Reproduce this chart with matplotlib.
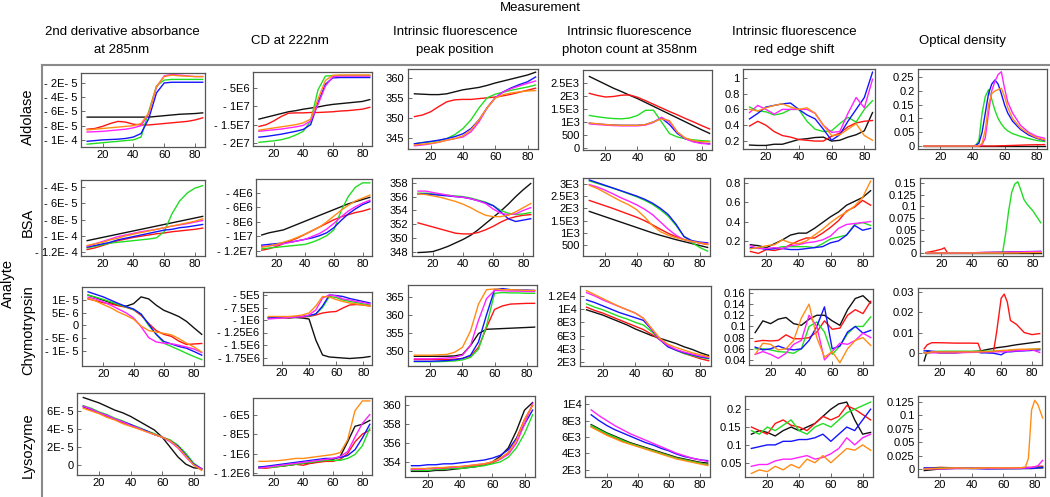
import matplotlib.pyplot as plt
from matplotlib.lines import Line2D

plt.rcParams['font.family'] = ['Liberation Sans', 'DejaVu Sans']

# temperature grid shared by most panels
temps = [10, 15, 20, 25, 30, 35, 40, 45, 50, 55, 60, 65, 70, 75, 80, 85]

col_titles = ['2nd derivative absorbance\nat 285nm', 'CD at 222nm',
              'Intrinsic fluorescence\npeak position',
              'Intrinsic fluorescence\nphoton count at 358nm',
              'Intrinsic fluorescence\nred edge shift', 'Optical density']
row_names = ['Aldolase', 'BSA', 'Chymotrypsin', 'Lysozyme']

colors = {'k': '#111111', 'r': '#ff1414', 'g': '#22dd22', 'b': '#1414ff',
          'm': '#ff22ff', 'o': '#ff8c14'}

# ---------------- Aldolase ----------------
ald_abs = {
    'k': [-6.8, -6.8, -6.8, -6.8, -6.8, -6.8, -6.8, -6.8, -6.8, -6.7, -6.6, -6.5, -6.4, -6.35, -6.3, -6.2],
    'r': [-8.5, -8.4, -8.1, -7.7, -7.4, -7.5, -7.8, -7.9, -7.9, -7.8, -7.7, -7.6, -7.5, -7.4, -7.2, -6.9],
    'g': [-10.6, -10.5, -10.4, -10.3, -10.2, -10.1, -10.0, -9.6, -6.0, -2.4, -1.6, -1.5, -1.5, -1.5, -1.5, -1.5],
    'b': [-10.2, -10.1, -10.0, -9.95, -9.9, -9.8, -9.6, -9.1, -7.0, -3.4, -2.0, -1.9, -1.9, -1.9, -1.9, -1.9],
    'm': [-8.9, -8.85, -8.8, -8.7, -8.6, -8.5, -8.3, -8.0, -6.3, -2.6, -1.0, -0.8, -0.9, -1.0, -1.1, -1.1],
    'o': [-8.6, -8.5, -8.4, -8.3, -8.2, -8.1, -8.0, -7.7, -6.2, -2.5, -1.1, -0.9, -1.0, -1.05, -1.1, -1.1],
}
ald_cd = {
    'k': [-13.5, -13.0, -12.5, -12.0, -11.5, -11.2, -10.8, -10.5, -10.2, -9.8, -9.5, -9.3, -9.1, -8.9, -8.7, -8.2],
    'r': [-15.5, -15.0, -14.0, -12.8, -11.9, -11.8, -11.8, -11.7, -11.7, -11.6, -11.5, -11.3, -11.2, -11.0, -10.8, -10.3],
    'g': [-19.8, -19.6, -19.4, -19.1, -18.6, -17.8, -16.8, -14.0, -5.5, -1.8, -1.7, -1.7, -1.7, -1.7, -1.7, -1.7],
    'b': [-18.4, -18.2, -17.9, -17.6, -17.2, -16.8, -16.3, -15.0, -9.0, -4.0, -2.3, -2.2, -2.2, -2.2, -2.2, -2.2],
    'm': [-16.8, -16.6, -16.4, -16.2, -15.9, -15.6, -15.2, -14.0, -9.5, -4.5, -2.0, -1.8, -1.8, -1.8, -1.8, -1.8],
    'o': [-16.5, -16.2, -15.9, -15.6, -15.3, -15.0, -14.5, -13.5, -8.0, -3.0, -1.6, -1.5, -1.5, -1.5, -1.5, -1.5],
}
ald_peak = {
    'k': [356.0, 355.9, 355.8, 355.8, 356.0, 356.5, 357.0, 357.3, 357.6, 358.1, 358.7, 359.2, 359.7, 360.2, 360.7, 361.4],
    'r': [350.3, 350.7, 351.5, 352.8, 354.0, 354.5, 354.6, 354.6, 354.8, 355.0, 355.2, 355.5, 355.9, 356.4, 356.9, 357.4],
    'g': [343.5, 343.8, 344.0, 344.3, 344.8, 345.8, 347.3, 349.5, 352.5, 355.0, 355.9, 356.4, 356.9, 357.3, 357.7, 358.2],
    'b': [343.5, 343.8, 344.1, 344.4, 344.8, 345.3, 346.0, 347.3, 349.5, 352.5, 355.0, 356.5, 357.5, 358.3, 359.0, 360.2],
    'm': [343.0, 343.2, 343.5, 343.9, 344.4, 344.8, 345.2, 346.5, 349.0, 352.5, 355.0, 356.5, 357.3, 358.0, 358.6, 359.2],
    'o': [343.2, 343.4, 343.6, 343.9, 344.4, 344.8, 345.5, 347.0, 349.5, 352.5, 354.9, 355.8, 356.2, 356.5, 356.7, 356.8],
}
ald_count = {
    'k': [2750, 2600, 2450, 2300, 2170, 2030, 1900, 1750, 1600, 1450, 1300, 1150, 1000, 850, 700, 560],
    'r': [2100, 2020, 1960, 1980, 2030, 2040, 1950, 1820, 1680, 1540, 1400, 1270, 1130, 1000, 860, 730],
    'g': [1250, 1200, 1160, 1130, 1120, 1150, 1250, 1450, 1450, 1000, 550, 420, 350, 310, 280, 260],
    'b': [950, 920, 900, 880, 870, 870, 870, 900, 1000, 1150, 900, 550, 350, 250, 190, 160],
    'm': [930, 900, 880, 860, 850, 850, 850, 880, 980, 1180, 1000, 600, 350, 230, 170, 150],
    'o': [960, 930, 900, 880, 870, 870, 870, 900, 1000, 1120, 1050, 600, 380, 280, 240, 230],
}
ald_edge = {
    'k': [0.15, 0.145, 0.145, 0.16, 0.16, 0.19, 0.22, 0.23, 0.245, 0.25, 0.2, 0.21, 0.25, 0.28, 0.33, 0.56],
    'r': [0.39, 0.45, 0.4, 0.32, 0.27, 0.25, 0.22, 0.21, 0.2, 0.2, 0.26, 0.3, 0.38, 0.43, 0.45, 0.46],
    'g': [0.63, 0.58, 0.57, 0.53, 0.55, 0.6, 0.6, 0.45, 0.35, 0.32, 0.33, 0.42, 0.5, 0.44, 0.6, 0.71],
    'b': [0.48, 0.55, 0.63, 0.65, 0.67, 0.68, 0.6, 0.53, 0.48, 0.35, 0.21, 0.28, 0.45, 0.6, 0.75, 1.07],
    'm': [0.56, 0.65, 0.6, 0.54, 0.6, 0.6, 0.6, 0.6, 0.55, 0.4, 0.31, 0.32, 0.55, 0.75, 0.62, 0.98],
    'o': [0.6, 0.58, 0.62, 0.65, 0.67, 0.63, 0.6, 0.62, 0.55, 0.4, 0.27, 0.28, 0.35, 0.42, 0.27, 0.21],
}
ald_od_t = [10, 40, 42, 44, 46, 48, 50, 52, 54, 56, 58, 60, 62, 65, 70, 75, 80, 85]
ald_od = {
    'k': [0, 0, 0, 0, 0, 0, 0, 0, 0, 0, 0, 0, 0, 0, 0, 0, 0, 0],
    'g': [0, 0, 0.002, 0.02, 0.12, 0.18, 0.205, 0.17, 0.13, 0.1, 0.08, 0.065, 0.055, 0.045, 0.035, 0.027, 0.02, 0.016],
    'b': [0, 0, 0.002, 0.01, 0.05, 0.12, 0.19, 0.225, 0.24, 0.225, 0.19, 0.15, 0.12, 0.09, 0.06, 0.04, 0.028, 0.02],
    'm': [0, 0, 0, 0, 0.005, 0.03, 0.12, 0.2, 0.235, 0.26, 0.27, 0.21, 0.16, 0.12, 0.075, 0.05, 0.035, 0.028],
    'o': [0, 0, 0, 0, 0.01, 0.06, 0.15, 0.19, 0.2, 0.205, 0.21, 0.18, 0.14, 0.1, 0.065, 0.045, 0.03, 0.022],
    'r': [0, 0, 0, 0, 0, 0, 0, 0, 0, 0.0005, 0.001, 0.001, 0.0015, 0.002, 0.003, 0.004, 0.0045, 0.005],
}

# ---------------- BSA ----------------
bsa_abs = {
    'k': [-10.6, -10.4, -10.2, -10.0, -9.8, -9.6, -9.4, -9.2, -9.0, -8.8, -8.6, -8.4, -8.2, -8.0, -7.8, -7.6],
    'r': [-11.7, -11.5, -11.2, -10.9, -10.6, -10.4, -10.2, -10.05, -9.9, -9.75, -9.65, -9.5, -9.4, -9.3, -9.2, -9.05],
    'g': [-11.5, -11.3, -11.1, -10.9, -10.8, -10.7, -10.6, -10.5, -10.4, -10.25, -9.5, -7.3, -5.7, -4.7, -4.1, -3.8],
    'b': [-11.4, -11.2, -11.0, -10.8, -10.5, -10.3, -10.1, -9.9, -9.7, -9.5, -9.3, -9.2, -9.0, -8.9, -8.75, -8.6],
    'm': [-11.3, -11.0, -10.7, -10.4, -10.1, -9.9, -9.7, -9.5, -9.35, -9.2, -9.0, -8.8, -8.65, -8.5, -8.3, -8.1],
    'o': [-11.2, -11.0, -10.8, -10.5, -10.3, -10.0, -9.8, -9.6, -9.4, -9.2, -9.0, -8.8, -8.6, -8.4, -8.2, -7.9],
}
bsa_cd = {
    'k': [-9.8, -9.5, -9.3, -9.1, -8.7, -8.3, -7.9, -7.5, -7.1, -6.7, -6.3, -5.9, -5.5, -5.2, -4.9, -4.6],
    'r': [-11.9, -11.7, -11.4, -11.0, -10.6, -10.2, -9.7, -9.2, -8.7, -8.2, -7.7, -7.3, -7.0, -6.7, -6.5, -6.2],
    'g': [-11.7, -11.6, -11.5, -11.4, -11.3, -11.2, -11.1, -10.8, -10.4, -9.9, -9.1, -6.5, -4.5, -3.2, -2.6, -2.6],
    'b': [-11.2, -11.1, -11.0, -10.9, -10.8, -10.6, -10.4, -10.2, -9.9, -9.5, -8.8, -7.8, -6.9, -6.2, -5.6, -5.2],
    'm': [-11.4, -11.3, -11.2, -11.0, -10.8, -10.6, -10.4, -10.0, -9.6, -9.0, -8.2, -7.3, -6.5, -5.9, -5.4, -5.0],
    'o': [-11.5, -11.3, -11.1, -10.8, -10.5, -10.1, -9.7, -9.2, -8.7, -8.0, -7.2, -6.4, -5.7, -5.1, -4.7, -4.3],
}
bsa_peak = {
    'k': [347.9, 347.95, 348.05, 348.4, 348.8, 349.3, 349.8, 350.4, 351.2, 352.1, 353.0, 353.9, 354.9, 356.0, 357.0, 357.9],
    'r': [352.2, 351.9, 351.6, 351.3, 351.0, 350.7, 350.6, 350.6, 350.8, 351.2, 351.7, 352.3, 352.8, 353.1, 353.3, 353.4],
    'g': [356.5, 356.5, 356.4, 356.3, 356.2, 356.1, 356.0, 355.8, 355.5, 355.2, 354.7, 354.0, 353.6, 353.4, 353.5, 353.7],
    'b': [356.4, 356.4, 356.3, 356.2, 356.1, 356.0, 355.9, 355.7, 355.4, 355.1, 354.7, 353.8, 352.8, 352.4, 352.6, 352.8],
    'm': [356.8, 356.8, 356.6, 356.4, 356.2, 356.0, 355.9, 355.7, 355.4, 355.0, 354.2, 353.6, 353.4, 353.5, 354.0, 354.4],
    'o': [356.4, 356.3, 356.1, 355.9, 355.6, 355.3, 354.9, 354.4, 353.8, 353.3, 353.1, 353.1, 353.3, 353.8, 354.4, 355.0],
}
bsa_count = {
    'k': [1880, 1770, 1660, 1550, 1440, 1330, 1220, 1110, 1000, 900, 810, 720, 640, 560, 480, 400],
    'r': [2330, 2220, 2110, 2000, 1880, 1760, 1640, 1500, 1330, 1150, 980, 840, 730, 650, 580, 520],
    'g': [3130, 3030, 2930, 2830, 2720, 2600, 2480, 2340, 2170, 1950, 1680, 1300, 850, 600, 400, 250],
    'b': [3170, 3060, 2950, 2840, 2730, 2620, 2510, 2380, 2220, 2010, 1750, 1350, 850, 680, 620, 590],
    'm': [2980, 2880, 2750, 2600, 2440, 2300, 2150, 1970, 1750, 1450, 1150, 900, 720, 640, 590, 560],
    'o': [2950, 2820, 2650, 2470, 2300, 2150, 1950, 1650, 1300, 1050, 900, 800, 720, 650, 590, 530],
}
bsa_edge = {
    'k': [0.16, 0.15, 0.13, 0.17, 0.21, 0.26, 0.28, 0.28, 0.33, 0.39, 0.45, 0.5, 0.57, 0.61, 0.65, 0.72],
    'r': [0.09, 0.07, 0.11, 0.10, 0.12, 0.16, 0.2, 0.23, 0.23, 0.28, 0.34, 0.41, 0.51, 0.55, 0.62, 0.57],
    'g': [0.12, 0.13, 0.12, 0.12, 0.14, 0.14, 0.14, 0.14, 0.13, 0.17, 0.22, 0.24, 0.26, 0.37, 0.39, 0.36],
    'b': [0.13, 0.13, 0.11, 0.12, 0.12, 0.11, 0.11, 0.12, 0.13, 0.14, 0.18, 0.2, 0.26, 0.36, 0.31, 0.33],
    'm': [0.15, 0.12, 0.12, 0.13, 0.12, 0.15, 0.16, 0.18, 0.19, 0.21, 0.25, 0.33, 0.37, 0.38, 0.39, 0.4],
    'o': [0.12, 0.13, 0.15, 0.16, 0.21, 0.18, 0.17, 0.2, 0.26, 0.32, 0.39, 0.45, 0.5, 0.56, 0.65, 0.82],
}
bsa_od_t = [10, 15, 20, 22, 24, 30, 40, 50, 60, 62, 64, 66, 68, 70, 72, 74, 76, 80, 85]
bsa_od = {
    'k': [0, 0, 0, 0, 0, 0, 0, 0, 0, 0, 0, 0, 0, 0, 0, 0, 0, 0, 0],
    'g': [0, 0, 0, 0, 0, 0, 0, 0, 0, 0.04, 0.09, 0.13, 0.148, 0.153, 0.135, 0.115, 0.105, 0.09, 0.065],
    'b': [0, 0, 0, 0, 0, 0, 0.0005, 0.001, 0.0015, 0.0015, 0.002, 0.002, 0.002, 0.002, 0.0025, 0.0025, 0.003, 0.003, 0.0035],
    'm': [0, 0, 0, 0, 0, 0, 0.0005, 0.001, 0.001, 0.0015, 0.0015, 0.002, 0.002, 0.002, 0.002, 0.0025, 0.0025, 0.003, 0.003],
    'o': [0, 0, 0, 0, 0, 0, 0, 0, 0, 0, 0, 0, 0, 0, 0.0005, 0.0005, 0.0005, 0.001, 0.001],
    'r': [0.001, 0.004, 0.008, 0.011, 0.0, 0.0, 0.0005, 0.001, 0.0015, 0.0015, 0.0015, 0.0015, 0.0015, 0.0015, 0.002, 0.002, 0.002, 0.002, 0.002],
}

# ---------------- Chymotrypsin ----------------
chy_abs = {
    'k': [12.0, 11.0, 10.0, 9.0, 8.0, 7.6, 8.6, 11.3, 10.5, 8.0, 6.0, 4.8, 3.5, 1.6, -1.0, -3.5],
    'r': [10.5, 9.8, 9.0, 8.5, 7.8, 7.2, 6.2, 4.0, 0.8, -2.0, -3.5, -4.3, -6.2, -7.5, -7.3, -7.1],
    'g': [12.0, 11.2, 10.3, 9.3, 8.3, 7.3, 6.3, 4.5, 0.0, -3.5, -7.0, -8.3, -9.6, -11.0, -12.3, -13.5],
    'b': [13.3, 12.3, 11.3, 10.0, 8.7, 7.5, 6.5, 4.5, 0.5, -3.5, -6.3, -7.3, -8.3, -9.0, -10.3, -11.7],
    'm': [11.2, 10.5, 9.3, 8.0, 6.5, 5.0, 3.0, -0.5, -4.8, -6.5, -7.0, -7.2, -7.8, -8.5, -9.3, -10.7],
    'o': [10.7, 9.7, 8.3, 7.0, 5.3, 4.0, 2.5, -0.2, -2.0, -2.6, -3.1, -3.7, -5.2, -7.0, -8.5, -10.5],
}
chy_cd = {
    'k': [-9.5, -9.6, -9.5, -9.6, -9.5, -9.6, -9.8, -14.0, -17.0, -17.4, -17.5, -17.6, -17.7, -17.6, -17.5, -17.3],
    'r': [-9.6, -9.5, -9.5, -9.5, -9.4, -9.4, -9.3, -9.0, -8.6, -8.4, -8.3, -7.6, -7.0, -6.9, -7.0, -7.2],
    'g': [-9.5, -9.5, -9.4, -9.4, -9.3, -9.3, -9.2, -8.8, -7.5, -5.3, -5.5, -6.0, -6.3, -6.5, -6.8, -7.0],
    'b': [-9.6, -9.5, -9.5, -9.4, -9.4, -9.3, -9.1, -8.8, -7.2, -5.0, -5.1, -5.3, -5.7, -6.0, -6.3, -6.6],
    'm': [-9.8, -9.7, -9.6, -9.5, -9.4, -9.3, -9.0, -8.0, -5.6, -5.0, -5.2, -5.8, -6.0, -6.3, -6.5, -6.8],
    'o': [-9.3, -9.3, -9.3, -9.3, -9.2, -9.0, -8.6, -7.2, -5.3, -5.4, -5.9, -6.3, -6.6, -6.8, -7.0, -7.2],
}
chy_peak = {
    'k': [348.5, 348.5, 348.5, 348.5, 348.5, 348.6, 349.0, 351.5, 354.8, 356.0, 356.1, 356.2, 356.3, 356.4, 356.5, 356.6],
    'r': [347.6, 347.6, 347.6, 347.6, 347.6, 347.7, 347.9, 348.5, 351.0, 356.5, 361.5, 362.5, 363.0, 363.1, 363.2, 363.2],
    'g': [347.0, 347.0, 347.0, 347.0, 347.1, 347.2, 347.5, 348.2, 350.5, 357.0, 366.0, 366.2, 366.1, 366.1, 366.0, 366.0],
    'b': [347.1, 347.1, 347.1, 347.2, 347.3, 347.5, 347.9, 348.8, 352.5, 360.0, 367.0, 367.3, 367.0, 366.9, 366.9, 366.8],
    'm': [347.8, 347.8, 347.8, 347.9, 348.0, 348.2, 348.8, 351.5, 358.5, 364.5, 366.8, 366.7, 366.6, 366.6, 366.5, 366.5],
    'o': [348.8, 348.8, 348.8, 348.9, 349.0, 349.6, 351.0, 355.5, 363.0, 367.0, 367.2, 367.0, 367.0, 366.9, 366.8, 366.8],
}
chy_count = {
    'k': [9.9, 9.5, 9.1, 8.6, 8.1, 7.6, 7.0, 6.5, 6.0, 5.6, 5.2, 4.8, 4.3, 3.9, 3.4, 3.0],
    'r': [10.3, 9.8, 9.4, 8.9, 8.4, 7.9, 7.4, 6.9, 6.2, 5.4, 4.5, 3.8, 3.3, 2.9, 2.5, 2.2],
    'g': [10.8, 10.3, 9.9, 9.4, 8.9, 8.5, 8.0, 7.6, 6.6, 5.4, 4.4, 3.8, 3.3, 3.0, 2.7, 2.5],
    'b': [11.4, 11.0, 10.5, 10.0, 9.5, 9.1, 8.7, 8.3, 6.9, 5.4, 4.3, 3.8, 3.4, 3.1, 2.8, 2.6],
    'm': [12.5, 12.0, 11.4, 10.9, 10.4, 9.9, 9.4, 8.6, 7.0, 5.4, 4.5, 3.9, 3.5, 3.2, 2.9, 2.7],
    'o': [12.8, 12.2, 11.6, 11.0, 10.4, 9.9, 9.4, 8.6, 7.1, 5.6, 4.7, 4.2, 3.8, 3.4, 3.1, 2.8],
}
chy_edge = {
    'k': [0.089, 0.11, 0.105, 0.113, 0.116, 0.105, 0.102, 0.113, 0.12, 0.12, 0.11, 0.102, 0.13, 0.15, 0.155, 0.142],
    'r': [0.073, 0.075, 0.074, 0.075, 0.085, 0.078, 0.078, 0.08, 0.09, 0.11, 0.095, 0.097, 0.12, 0.13, 0.123, 0.145],
    'g': [0.06, 0.06, 0.058, 0.055, 0.054, 0.052, 0.06, 0.1, 0.108, 0.09, 0.05, 0.065, 0.087, 0.1, 0.1, 0.117],
    'b': [0.063, 0.058, 0.06, 0.065, 0.06, 0.058, 0.06, 0.075, 0.1, 0.135, 0.06, 0.065, 0.09, 0.1, 0.088, 0.093],
    'm': [0.05, 0.055, 0.05, 0.043, 0.052, 0.068, 0.075, 0.12, 0.1, 0.04, 0.055, 0.07, 0.068, 0.075, 0.088, 0.08],
    'o': [0.05, 0.07, 0.068, 0.058, 0.06, 0.075, 0.115, 0.14, 0.08, 0.045, 0.055, 0.035, 0.06, 0.075, 0.08, 0.066],
}
chy_od_t = [10, 12, 15, 20, 30, 40, 45, 47, 50, 55, 57, 60, 62, 64, 66, 70, 75, 80, 85]
chy_od = {
    'k': [-0.004, 0.001, 0.0005, 0.0, 0.0, 0.0005, 0.0008, 0.001, 0.0015, 0.0022, 0.0025, 0.0028, 0.003, 0.0032, 0.0035, 0.004, 0.0045, 0.005, 0.0055],
    'g': [0.0, -0.0005, 0.0005, 0.0008, 0.0008, 0.0008, 0.0008, 0.0008, 0.0008, 0.0008, 0.0008, 0.0008, 0.001, 0.001, 0.0012, 0.0015, 0.0015, 0.0018, 0.002],
    'b': [0.001, 0.001, 0.0008, 0.0005, 0.0005, 0.0005, 0.0003, 0.0, 0.0, -0.0002, -0.0005, -0.001, 0.0, 0.0005, 0.0005, 0.0008, 0.001, 0.0012, 0.0015],
    'm': [0.0, 0.0, 0.0, 0.0, 0.0, 0.0002, 0.0003, 0.0005, 0.0005, 0.0005, 0.0005, 0.0005, 0.0005, 0.0007, 0.0008, 0.001, 0.0012, 0.0015, 0.0002],
    'o': [0.0, 0.0, 0.0005, 0.0005, 0.0005, 0.0005, 0.0005, 0.0005, 0.0006, 0.0008, 0.001, 0.0012, 0.0012, 0.0013, 0.0015, 0.0017, 0.0018, 0.0018, 0.002],
    'r': [0.002, 0.004, 0.005, 0.005, 0.0048, 0.0048, 0.0047, 0.0005, 0.0005, 0.0005, 0.01, 0.027, 0.029, 0.025, 0.016, 0.014, 0.01, 0.009, 0.0095],
}

# ---------------- Lysozyme ----------------
lys_abs = {
    'k': [7.5, 7.2, 6.9, 6.5, 6.1, 5.8, 5.4, 4.9, 4.4, 3.9, 3.1, 2.0, 0.9, 0.1, -0.3, -0.4],
    'r': [6.45, 6.1, 5.8, 5.4, 5.1, 4.7, 4.4, 4.1, 3.8, 3.4, 3.1, 2.7, 2.0, 1.0, 0.1, -0.5],
    'g': [6.6, 6.3, 5.9, 5.6, 5.2, 4.9, 4.5, 4.2, 3.8, 3.5, 3.1, 2.8, 2.2, 1.3, 0.2, -0.4],
    'b': [6.5, 6.2, 5.8, 5.5, 5.1, 4.8, 4.5, 4.1, 3.8, 3.4, 3.1, 2.7, 2.1, 1.1, 0.1, -0.4],
    'm': [6.55, 6.2, 5.8, 5.5, 5.1, 4.8, 4.4, 4.1, 3.7, 3.4, 3.1, 2.6, 1.9, 0.9, 0.0, -0.4],
    'o': [6.3, 6.0, 5.7, 5.3, 5.0, 4.6, 4.3, 4.0, 3.7, 3.4, 3.1, 2.7, 2.0, 1.0, 0.0, -0.6],
}
lys_cd = {
    'k': [-11.4, -11.4, -11.3, -11.3, -11.2, -11.1, -11.0, -11.0, -10.8, -10.7, -10.6, -10.3, -8.8, -7.2, -7.0, -6.6],
    'r': [-11.5, -11.5, -11.4, -11.3, -11.2, -11.1, -11.2, -11.0, -10.9, -10.8, -10.8, -10.6, -10.0, -8.8, -8.0, -7.6],
    'g': [-11.5, -11.4, -11.4, -11.3, -11.2, -11.1, -11.0, -10.9, -10.8, -10.7, -10.7, -10.7, -10.5, -10.1, -9.2, -7.4],
    'b': [-11.4, -11.3, -11.2, -11.1, -11.0, -10.9, -10.8, -10.7, -10.6, -10.5, -10.5, -10.4, -10.2, -9.6, -8.4, -7.0],
    'm': [-11.5, -11.4, -11.3, -11.2, -11.1, -11.0, -10.9, -10.8, -10.7, -10.6, -10.5, -10.3, -9.8, -8.3, -6.9, -6.0],
    'o': [-10.8, -10.8, -10.75, -10.7, -10.6, -10.5, -10.5, -10.4, -10.3, -10.2, -10.1, -9.9, -8.6, -5.6, -4.6, -4.6],
}
lys_peak = {
    'k': [353.0, 353.0, 353.0, 353.1, 353.1, 353.2, 353.3, 353.4, 353.5, 353.7, 354.0, 354.6, 355.5, 357.3, 359.5, 360.3],
    'r': [353.2, 353.2, 353.3, 353.3, 353.3, 353.4, 353.5, 353.5, 353.6, 353.7, 353.9, 354.3, 355.0, 356.5, 358.5, 360.0],
    'g': [353.1, 353.1, 353.1, 353.2, 353.2, 353.3, 353.3, 353.4, 353.5, 353.6, 353.8, 354.0, 354.5, 355.5, 357.0, 359.0],
    'b': [353.6, 353.6, 353.7, 353.7, 353.8, 353.8, 353.9, 354.0, 354.1, 354.2, 354.4, 354.7, 355.3, 356.5, 358.0, 359.5],
    'm': [353.2, 353.2, 353.3, 353.3, 353.4, 353.4, 353.5, 353.6, 353.7, 353.8, 354.0, 354.3, 354.8, 356.0, 358.0, 360.2],
    'o': [353.3, 353.3, 353.3, 353.4, 353.4, 353.5, 353.5, 353.6, 353.7, 353.8, 354.0, 354.4, 355.0, 356.3, 358.5, 360.0],
}
lys_count = {
    'k': [7.5, 7.0, 6.5, 6.1, 5.7, 5.3, 5.0, 4.7, 4.4, 4.1, 3.8, 3.5, 3.3, 3.1, 2.9, 2.8],
    'r': [7.3, 6.8, 6.3, 5.9, 5.5, 5.2, 4.9, 4.6, 4.3, 4.0, 3.7, 3.4, 3.2, 3.0, 2.8, 2.6],
    'g': [7.4, 6.9, 6.4, 6.0, 5.6, 5.2, 4.9, 4.6, 4.3, 4.0, 3.7, 3.4, 3.2, 3.0, 2.8, 2.6],
    'b': [8.7, 8.0, 7.4, 6.9, 6.5, 6.1, 5.7, 5.3, 5.0, 4.6, 4.3, 3.9, 3.6, 3.4, 3.2, 3.1],
    'm': [9.3, 8.6, 8.0, 7.4, 6.9, 6.4, 6.0, 5.6, 5.2, 4.8, 4.4, 4.0, 3.7, 3.4, 3.2, 3.0],
    'o': [7.2, 6.7, 6.2, 5.8, 5.4, 5.1, 4.8, 4.5, 4.2, 3.9, 3.6, 3.3, 3.1, 2.9, 2.7, 2.5],
}
lys_edge = {
    'k': [0.13, 0.14, 0.135, 0.125, 0.14, 0.15, 0.14, 0.15, 0.16, 0.18, 0.2, 0.215, 0.22, 0.17, 0.13, 0.135],
    'r': [0.15, 0.14, 0.13, 0.16, 0.17, 0.155, 0.15, 0.14, 0.16, 0.18, 0.17, 0.18, 0.21, 0.2, 0.185, 0.17],
    'g': [0.14, 0.13, 0.15, 0.14, 0.155, 0.17, 0.14, 0.13, 0.15, 0.16, 0.15, 0.17, 0.19, 0.2, 0.21, 0.22],
    'b': [0.09, 0.095, 0.1, 0.1, 0.11, 0.11, 0.115, 0.115, 0.12, 0.13, 0.11, 0.13, 0.15, 0.14, 0.17, 0.2],
    'm': [0.04, 0.045, 0.045, 0.055, 0.06, 0.06, 0.065, 0.07, 0.06, 0.065, 0.075, 0.09, 0.12, 0.1, 0.12, 0.13],
    'o': [0.02, 0.03, 0.025, 0.04, 0.03, 0.045, 0.035, 0.06, 0.05, 0.07, 0.05, 0.07, 0.09, 0.085, 0.1, 0.085],
}
lys_od_t = [10, 20, 30, 40, 50, 60, 70, 74, 76, 78, 80, 82, 85]
lys_od = {
    'k': [-0.003, 0.0, 0.001, 0.001, 0.001, 0.001, 0.001, 0.001, 0.001, 0.001, 0.001, 0.002, 0.002],
    'g': [0.0, 0.002, 0.0015, 0.001, 0.001, 0.0005, 0.001, 0.001, 0.001, 0.001, 0.002, 0.003, 0.003],
    'b': [0.002, 0.001, 0.001, 0.001, 0.0, 0.0005, 0.0005, 0.001, 0.001, 0.001, 0.0015, 0.002, 0.003],
    'r': [0.001, 0.003, 0.002, 0.001, 0.002, 0.001, 0.002, 0.003, 0.003, 0.003, 0.004, 0.005, 0.005],
    'm': [0.0, 0.0, 0.001, 0.001, 0.001, 0.001, 0.001, 0.002, 0.002, 0.003, 0.004, 0.006, 0.016],
    'o': [0.0, 0.001, 0.002, 0.001, 0.002, 0.002, 0.002, 0.003, 0.02, 0.11, 0.128, 0.12, 0.095],
}

# data scale factors per panel column (values above are stored in these units)
abs_scale, cd_ald, cd_bsa, cd_small = 1e-5, 1e6, 1e6, 1e5

panels = [
    # row 0 : Aldolase
    (ald_abs, temps, abs_scale, (-11.0e-5, -0.6e-5), [-2e-5, -4e-5, -6e-5, -8e-5, -1e-4],
     ['- 2E- 5', '- 4E- 5', '- 6E- 5', '- 8E- 5', '- 1E- 4']),
    (ald_cd, temps, cd_ald, (-2.08e7, -0.07e7), [-5e6, -1e7, -1.5e7, -2e7],
     ['- 5E6', '- 1E7', '- 1.5E7', '- 2E7']),
    (ald_peak, temps, 1, (342.2, 362.2), [345, 350, 355, 360], ['345', '350', '355', '360']),
    (ald_count, temps, 1, (-80, 3000), [0, 500, 1000, 1500, 2000, 2500],
     ['0', '500', '1E3', '1.5E3', '2E3', '2.5E3']),
    (ald_edge, temps, 1, (0.1, 1.11), [0.2, 0.4, 0.6, 0.8, 1.0], ['0.2', '0.4', '0.6', '0.8', '1']),
    (ald_od, ald_od_t, 1, (-0.011, 0.28), [0, 0.05, 0.1, 0.15, 0.2, 0.25],
     ['0', '0.05', '0.1', '0.15', '0.2', '0.25']),
    # row 1 : BSA
    (bsa_abs, temps, abs_scale, (-12.5e-5, -3.1e-5), [-4e-5, -6e-5, -8e-5, -1e-4, -1.2e-4],
     ['- 4E- 5', '- 6E- 5', '- 8E- 5', '- 1E- 4', '- 1.2E- 4']),
    (bsa_cd, temps, cd_bsa, (-12.7e6, -2.07e6), [-4e6, -6e6, -8e6, -1e7, -1.2e7],
     ['- 4E6', '- 6E6', '- 8E6', '- 1E7', '- 1.2E7']),
    (bsa_peak, temps, 1, (347.4, 358.7), [348, 350, 352, 354, 356, 358],
     ['348', '350', '352', '354', '356', '358']),
    (bsa_count, temps, 1, (50, 3250), [500, 1000, 1500, 2000, 2500, 3000],
     ['500', '1E3', '1.5E3', '2E3', '2.5E3', '3E3']),
    (bsa_edge, temps, 1, (0.043, 0.852), [0.2, 0.4, 0.6, 0.8], ['0.2', '0.4', '0.6', '0.8']),
    (bsa_od, bsa_od_t, 1, (-0.0065, 0.161), [0, 0.025, 0.05, 0.075, 0.1, 0.125, 0.15],
     ['0', '0.025', '0.05', '0.075', '0.1', '0.125', '0.15']),
    # row 2 : Chymotrypsin
    (chy_abs, temps, 1e-6, (-16e-6, 15.2e-6), [1e-5, 5e-6, 0, -5e-6, -1e-5],
     ['1E- 5', '5E- 6', '0', '- 5E- 6', '- 1E- 5']),
    (chy_cd, temps, cd_small, (-19.0e5, -4.4e5), [-5e5, -7.5e5, -1e6, -1.25e6, -1.5e6, -1.75e6],
     ['- 5E5', '- 7.5E5', '- 1E6', '- 1.25E6', '- 1.5E6', '- 1.75E6']),
    (chy_peak, temps, 1, (345.8, 368.3), [350, 355, 360, 365], ['350', '355', '360', '365']),
    (chy_count, temps, 1e3, (1400, 13500), [2000, 4000, 6000, 8000, 10000, 12000],
     ['2E3', '4E3', '6E3', '8E3', '1E4', '1.2E4']),
    (chy_edge, temps, 1, (0.031, 0.167), [0.04, 0.06, 0.08, 0.1, 0.12, 0.14, 0.16],
     ['0.04', '0.06', '0.08', '0.1', '0.12', '0.14', '0.16']),
    (chy_od, chy_od_t, 1, (-0.006, 0.032), [0, 0.01, 0.02, 0.03], ['0', '0.01', '0.02', '0.03']),
    # row 3 : Lysozyme
    (lys_abs, temps, abs_scale, (-1.1e-5, 8.0e-5), [0, 2e-5, 4e-5, 6e-5],
     ['0', '2E- 5', '4E- 5', '6E- 5']),
    (lys_cd, temps, cd_small, (-12.2e5, -4.3e5), [-6e5, -8e5, -1e6, -1.2e6],
     ['- 6E5', '- 8E5', '- 1E6', '- 1.2E6']),
    (lys_peak, temps, 1, (352.4, 361.0), [354, 356, 358, 360], ['354', '356', '358', '360']),
    (lys_count, temps, 1e3, (1100, 11000), [2000, 4000, 6000, 8000, 10000],
     ['2E3', '4E3', '6E3', '8E3', '1E4']),
    (lys_edge, temps, 1, (0.01, 0.237), [0.05, 0.1, 0.15, 0.2], ['0.05', '0.1', '0.15', '0.2']),
    (lys_od, lys_od_t, 1, (-0.015, 0.136), [0, 0.025, 0.05, 0.075, 0.1, 0.125],
     ['0', '0.025', '0.05', '0.075', '0.1', '0.125']),
]

# axes boxes in pixels: left, top, right, bottom
boxes = [
    (81, 73, 205, 147), (253, 72, 372, 146), (408, 69, 538, 149),
    (583, 70, 712, 150), (743, 69, 875, 149), (918, 69, 1047, 149),
    (81, 180, 205, 256), (256, 179, 372, 256), (412, 178, 533, 256),
    (583, 178, 710, 256), (744, 178, 873, 256), (920, 178, 1043, 256),
    (82, 287, 204, 366), (263, 292, 372, 365), (408, 285, 537, 366),
    (580, 286, 711, 366), (749, 289, 873, 365), (918, 288, 1042, 365),
    (77, 393, 204, 475), (253, 398, 372, 475), (405, 396, 535, 477),
    (585, 396, 710, 477), (745, 396, 873, 477), (918, 396, 1045, 477),
]

W, H = 1050, 497
fig = plt.figure(figsize=(W / 100, H / 100), dpi=100)

# outer frame (top and left), drawn first so it stays behind the panels
frame = fig.add_axes([0, 0, 1, 1], facecolor='none')
frame.set_xlim(0, W)
frame.set_ylim(H, 0)
frame.axis('off')
frame.add_line(Line2D([42, 42], [65, H], color='#8a8a8a', lw=1.5))
frame.add_line(Line2D([42, W], [65, 65], color='#8a8a8a', lw=1.5))

for (data, xs, scale, ylim, yt, ylab), (l, t, r, b) in zip(panels, boxes):
    ax = fig.add_axes([l / W, 1 - b / H, (r - l) / W, (b - t) / H])
    for key in ['k', 'r', 'g', 'b', 'm', 'o']:
        ax.plot(xs, [v * scale for v in data[key]], color=colors[key], lw=1.0)
    ax.set_xlim(6, 86.5)
    ax.set_ylim(*ylim)
    ax.set_xticks([20, 40, 60, 80])
    ax.set_yticks(yt)
    ax.set_yticklabels(ylab)
    ax.tick_params(direction='in', length=3, width=0.6, color='#555555',
                   labelsize=8, pad=2.5)
    for s in ax.spines.values():
        s.set_color('#555555')
        s.set_linewidth(0.9)

fig.text(540 / W, 1 - 8 / H, 'Measurement', ha='center', va='center', fontsize=9.5)
title_x = [122, 290, 455, 629, 794, 962]
for x, s in zip(title_x, col_titles):
    fig.text(x / W, 1 - 41 / H, s, ha='center', va='center', fontsize=9.5, linespacing=1.6)

row_y = [117, 222, 330, 445]
for y, s in zip(row_y, row_names):
    fig.text(28 / W, 1 - y / H, s, ha='center', va='center', rotation=90, fontsize=10.5)
fig.text(8 / W, 1 - 283 / H, 'Analyte', ha='center', va='center', rotation=90, fontsize=10.5)

fig.savefig('out.png', dpi=100)
